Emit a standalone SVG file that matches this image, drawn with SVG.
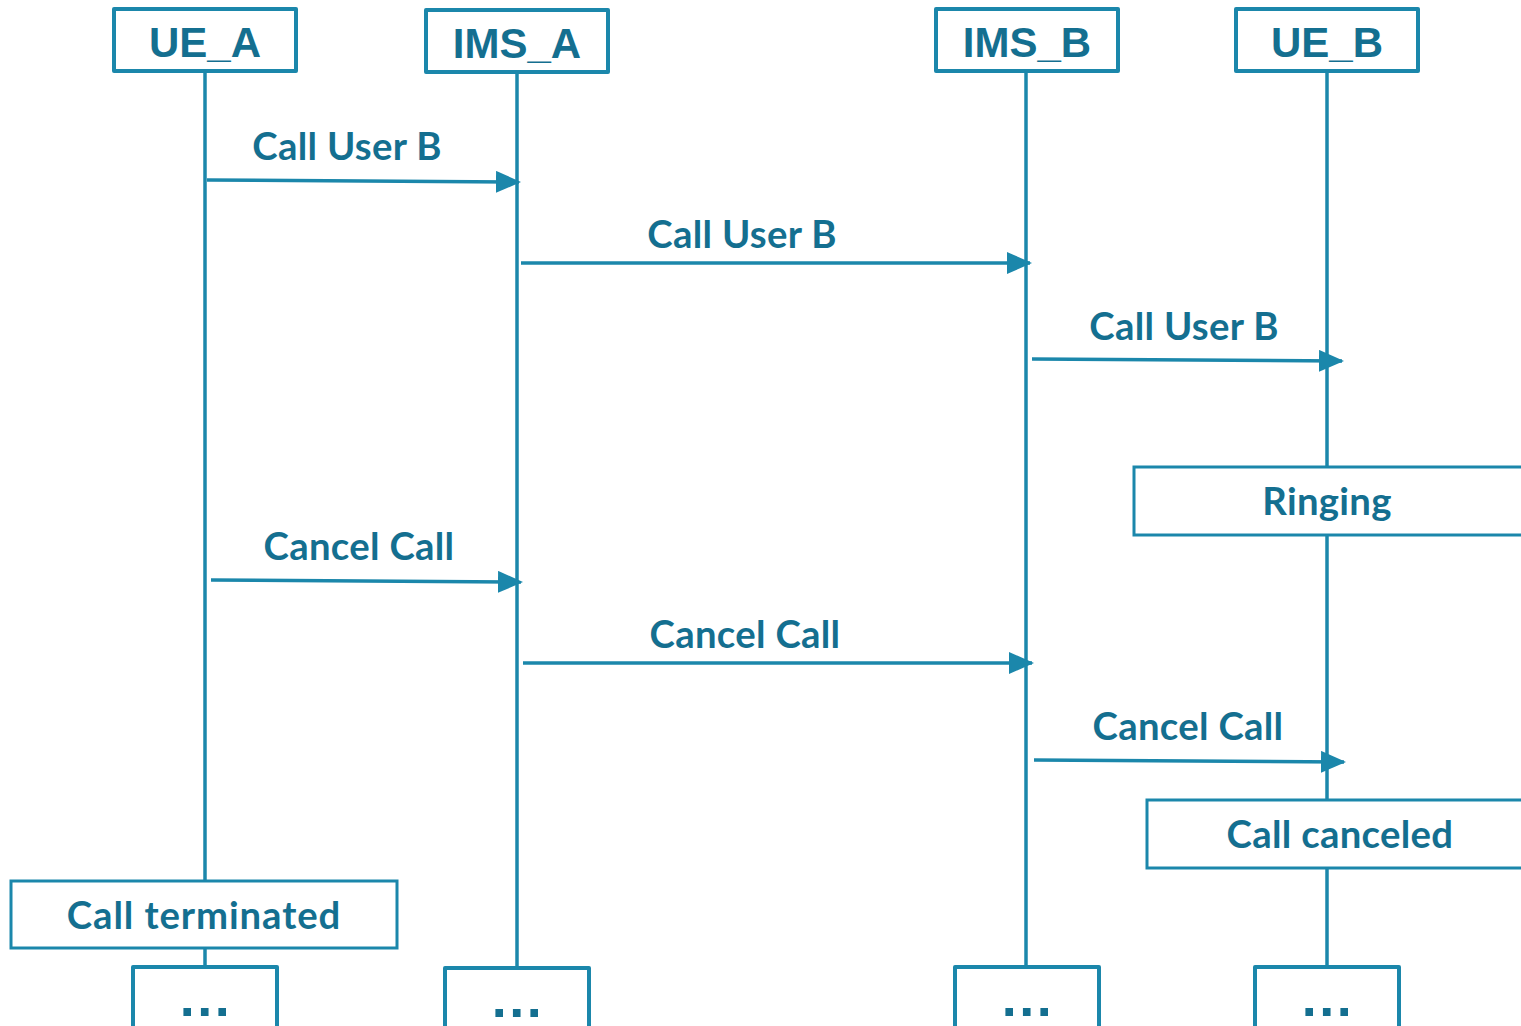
<svg xmlns="http://www.w3.org/2000/svg" width="1521" height="1026" viewBox="0 0 1521 1026">
  <style>
    .box { fill: #ffffff; stroke: #1b87ab; stroke-width: 4; stroke-linejoin: round; }
    .note { fill: #ffffff; stroke: #1b87ab; stroke-width: 3; }
    .life { stroke: #1b87ab; stroke-width: 3.5; fill: none; }
    .msg { stroke: #1b87ab; stroke-width: 3.5; fill: none; marker-end: url(#arrow); }
    .head { font-family: "Liberation Sans", Arial, sans-serif; font-weight: bold; font-size: 42px; fill: #146f90; text-anchor: middle; }
    .lbl { font-family: Lato, "Open Sans", sans-serif; font-weight: bold; font-size: 38.3px; letter-spacing: 0.3px; fill: #146f90; text-anchor: middle; }
    .wide { letter-spacing: 0.9px; }
    .dots { font-family: "Liberation Sans", Arial, sans-serif; font-weight: bold; font-size: 54px; letter-spacing: 2.5px; fill: #146f90; text-anchor: middle; }
  </style>
  <defs>
    <marker id="arrow" viewBox="0 0 25 22" refX="23" refY="11" markerWidth="25" markerHeight="22" markerUnits="userSpaceOnUse" orient="auto">
      <path d="M0,0 L25,11 L0,22 Z" fill="#1b87ab"/>
    </marker>
  </defs>

  <!-- lifelines -->
  <g id="lifelines">
    <line class="life" x1="205" y1="71" x2="205" y2="967"/>
    <line class="life" x1="517" y1="72" x2="517" y2="968"/>
    <line class="life" x1="1026" y1="71" x2="1026" y2="967"/>
    <line class="life" x1="1327" y1="71" x2="1327" y2="967"/>
  </g>

  <!-- messages -->
  <g id="connectors">
    <line class="msg" x1="207" y1="180" x2="519" y2="182"/>
    <line class="msg" x1="521" y1="263" x2="1030" y2="263"/>
    <line class="msg" x1="1032" y1="359" x2="1342" y2="361"/>
    <line class="msg" x1="211" y1="580" x2="521" y2="582"/>
    <line class="msg" x1="523" y1="663" x2="1032" y2="663"/>
    <line class="msg" x1="1034" y1="760" x2="1344" y2="762"/>
    <text class="lbl" x="347" y="160">Call User B</text>
    <text class="lbl" x="742" y="248">Call User B</text>
    <text class="lbl" x="1184" y="340">Call User B</text>
    <text class="lbl" x="359" y="560">Cancel Call</text>
    <text class="lbl" x="745" y="648">Cancel Call</text>
    <text class="lbl" x="1188" y="740">Cancel Call</text>
  </g>

  <!-- participants -->
  <g id="ue_a">
    <rect class="box" x="114" y="9" width="182" height="62"/>
    <text class="head" x="205" y="57">UE_A</text>
  </g>
  <g id="ims_a">
    <rect class="box" x="426" y="10" width="182" height="62"/>
    <text class="head" x="517" y="58">IMS_A</text>
  </g>
  <g id="ims_b">
    <rect class="box" x="936" y="9" width="182" height="62"/>
    <text class="head" x="1027" y="57">IMS_B</text>
  </g>
  <g id="ue_b">
    <rect class="box" x="1236" y="9" width="182" height="62"/>
    <text class="head" x="1327" y="57">UE_B</text>
  </g>

  <!-- state notes -->
  <g id="ringing">
    <rect class="note" x="1134" y="467" width="400" height="68"/>
    <text class="lbl" x="1327" y="515">Ringing</text>
  </g>
  <g id="call_canceled">
    <rect class="note" x="1147" y="800" width="390" height="68"/>
    <text class="lbl" x="1340" y="848">Call canceled</text>
  </g>
  <g id="call_terminated">
    <rect class="note" x="11" y="881" width="386" height="67"/>
    <text class="lbl wide" x="204" y="929">Call terminated</text>
  </g>

  <!-- continuation boxes -->
  <g id="cont_ue_a">
    <rect class="box" x="133" y="967" width="144" height="70"/>
    <text class="dots" x="206" y="1016">...</text>
  </g>
  <g id="cont_ims_a">
    <rect class="box" x="445" y="968" width="144" height="70"/>
    <text class="dots" x="518" y="1017">...</text>
  </g>
  <g id="cont_ims_b">
    <rect class="box" x="955" y="967" width="144" height="70"/>
    <text class="dots" x="1028" y="1016">...</text>
  </g>
  <g id="cont_ue_b">
    <rect class="box" x="1255" y="967" width="144" height="70"/>
    <text class="dots" x="1328" y="1016">...</text>
  </g>
</svg>
